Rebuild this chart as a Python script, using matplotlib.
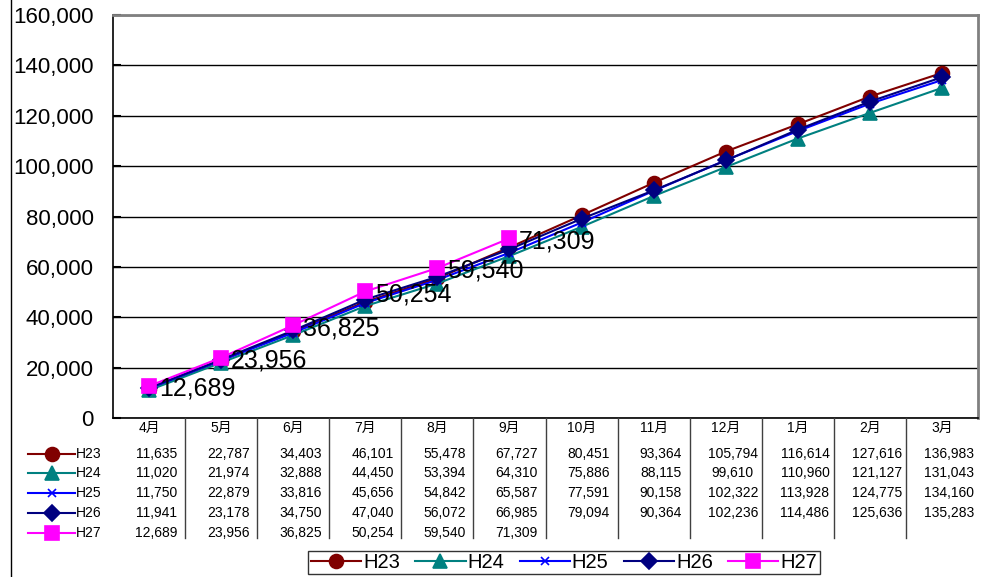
import numpy as np
import matplotlib
matplotlib.use('Agg')
import matplotlib.pyplot as plt
import matplotlib.transforms as mtransforms
from matplotlib.lines import Line2D

plt.rcParams['font.family'] = ['Liberation Sans', 'Noto Sans CJK JP', 'DejaVu Sans']

months = ['4月', '5月', '6月', '7月', '8月', '9月', '10月', '11月', '12月', '1月', '2月', '3月']
h23 = [11635, 22787, 34403, 46101, 55478, 67727, 80451, 93364, 105794, 116614, 127616, 136983]
h24 = [11020, 21974, 32888, 44450, 53394, 64310, 75886, 88115, 99610, 110960, 121127, 131043]
h25 = [11750, 22879, 33816, 45656, 54842, 65587, 77591, 90158, 102322, 113928, 124775, 134160]
h26 = [11941, 23178, 34750, 47040, 56072, 66985, 79094, 90364, 102236, 114486, 125636, 135283]
h27 = [12689, 23956, 36825, 50254, 59540, 71309]
names = ['H23', 'H24', 'H25', 'H26', 'H27']
series = [h23, h24, h25, h26, h27]
colors = ['#800000', '#008080', '#0000FF', '#000080', '#FF00FF']
markers = ['o', '^', 'x', 'D', 's']
msizes = [10, 10, 6, 8, 10]

fig = plt.figure(figsize=(10, 5.77), dpi=100)
ax = fig.add_axes([0.113, 1 - 418 / 577, 0.865, 403 / 577])

x = np.arange(len(months))
handles = []
for name, vals, c, m, ms in zip(names, series, colors, markers, msizes):
    h, = ax.plot(x[:len(vals)], vals, color=c, marker=m, markersize=ms, lw=1.5,
                 markeredgecolor=c, markerfacecolor=c, mew=1.2, label=name)
    handles.append(h)

# data labels for H27
for xi, v in zip(x, h27):
    ax.annotate(f'{v:,}', (xi, v), xytext=(7, -2), textcoords='offset points',
                ha='left', va='center', fontsize=18)

ax.set_xlim(-0.5, 11.5)
ax.set_ylim(0, 160000)
ax.set_yticks(np.arange(0, 160001, 20000))
ax.set_yticklabels([f'{v:,}' for v in range(0, 160001, 20000)], fontsize=16)
ax.tick_params(axis='y', direction='in', length=6, pad=14, width=1.5)
ax.set_xticks([])
ax.yaxis.grid(True, color='black', lw=1)
ax.set_axisbelow(True)
ax.spines['top'].set_color('#808080')
ax.spines['right'].set_color('#808080')
ax.spines['top'].set_linewidth(2)
ax.spines['right'].set_linewidth(2)
ax.spines['left'].set_linewidth(1.2)
ax.spines['bottom'].set_linewidth(1.2)

# data table below the plot
tr = mtransforms.blended_transform_factory(ax.transData, fig.transFigure)
def fy(py):
    return 1 - py / 577

for b in np.arange(0.5, 11.5, 1):
    fig.add_artist(Line2D([b, b], [fy(418), fy(538)], transform=tr, color='#404040', lw=1))

for xi, mth in zip(x, months):
    fig.text(xi, fy(428), mth, transform=tr, ha='center', va='center', fontsize=10)

rows_y = [454, 473, 493, 513, 533]
for name, vals, c, m, ms, ry in zip(names, series, colors, markers, msizes, rows_y):
    fig.add_artist(Line2D([0.028, 0.075], [fy(ry), fy(ry)], transform=fig.transFigure, color=c, lw=1.5))
    fig.add_artist(Line2D([0.0515], [fy(ry)], transform=fig.transFigure, color=c, marker=m,
                          markersize=ms, markerfacecolor=c, markeredgecolor=c, mew=1.2))
    fig.text(0.076, fy(ry), name, ha='left', va='center', fontsize=10)
    for xi, v in zip(x, vals):
        fig.text(xi + 0.1, fy(ry), f'{v:,}', transform=tr, ha='center', va='center', fontsize=10)

# outer chart frame edge on the left
fig.add_artist(Line2D([0.011, 0.011], [0, 1], transform=fig.transFigure, color='black', lw=1))

leg = fig.legend(handles=handles, loc='lower center', bbox_to_anchor=(0.564, 0.001), ncol=5,
                 fontsize=14.5, frameon=True, fancybox=False, handlelength=2.5,
                 handletextpad=0.1, columnspacing=0.75, borderpad=0.12, borderaxespad=0.1)
leg.get_frame().set_edgecolor('black')
leg.get_frame().set_linewidth(1)

fig.savefig('out.png', dpi=100)
